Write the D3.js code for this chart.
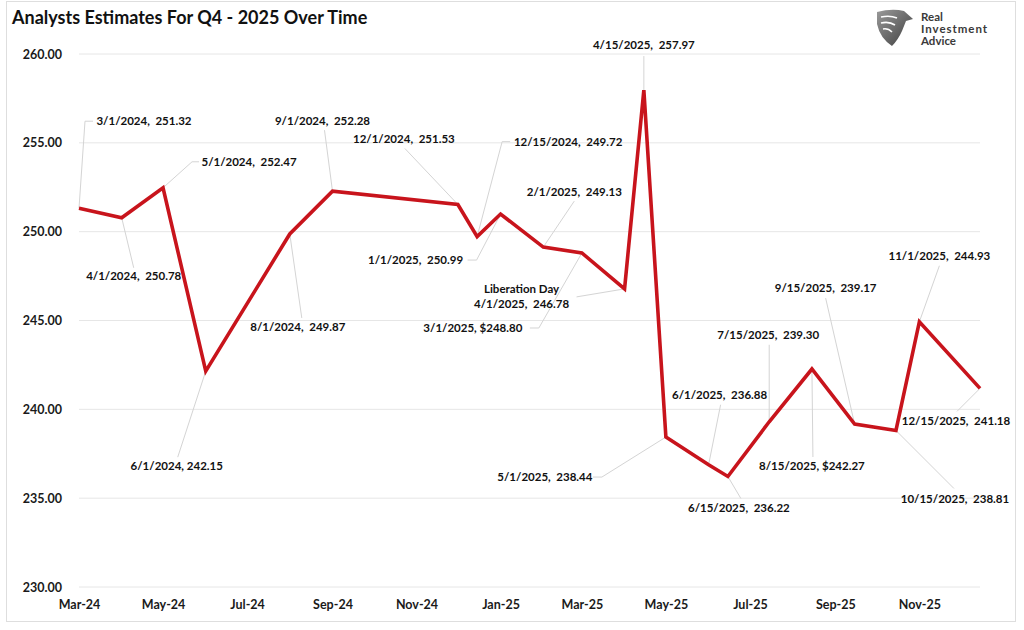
<!DOCTYPE html>
<html>
<head>
<meta charset="utf-8">
<script src="https://cdn.jsdelivr.net/npm/d3@7"></script>
<style>
body{margin:0;background:#fff;}
svg{font-family:Lato,"Open Sans",sans-serif;}
</style>
</head>
<body>
<svg width="1024" height="630"></svg>
<script>
// dane z wykresu
var daty = ["2024-03-01","2024-04-01","2024-05-01","2024-06-01","2024-08-01","2024-09-01","2024-12-01","2024-12-15",
	"2025-01-01","2025-02-01","2025-03-01","2025-04-01","2025-04-15","2025-05-01","2025-06-01","2025-06-15",
	"2025-07-15","2025-08-15","2025-09-15","2025-10-15","2025-11-01","2025-12-15"];
var wartosci = [251.32,250.78,252.47,242.15,249.87,252.28,251.53,249.72,250.99,249.13,248.80,246.78,257.97,
	238.44,236.88,236.22,239.30,242.27,239.17,238.81,244.93,241.18];
var etykiety = [["3/1/2024,  251.32"],["4/1/2024,  250.78"],["5/1/2024,  252.47"],["6/1/2024, 242.15"],
	["8/1/2024,  249.87"],["9/1/2024,  252.28"],["12/1/2024,  251.53"],["12/15/2024,  249.72"],
	["1/1/2025,  250.99"],["2/1/2025,  249.13"],["3/1/2025, $248.80"],["Liberation Day","4/1/2025,  246.78"],
	["4/15/2025,  257.97"],["5/1/2025,  238.44"],["6/1/2025,  236.88"],["6/15/2025,  236.22"],
	["7/15/2025,  239.30"],["8/15/2025, $242.27"],["9/15/2025,  239.17"],["10/15/2025,  238.81"],
	["11/1/2025,  244.93"],["12/15/2025,  241.18"]];
var yTicki = [230,235,240,245,250,255,260];
var tytul = "Analysts Estimates For Q4 - 2025 Over Time";

// przesuniecia etykiet wzgledem punktu: [tx,ty, lx,ly, kreska]
var uklad = [[65,-87,6,-87,8],[12,58,12,50,0],[86,-26,29,-26,7],[-29,95,-28,86,0],[8,93,12,84,0],
	[-10,-70,-8,-61,0],[-54,-66,-53,-56,0],[91,-95,25,-95,8],[-85,46,-24,46,-9],[31,-55,31,-46,0],
	[-109,75,-43,75,-9],[-103,8,-48,8,0],[0,-45,0,-34,0],[-121,40,-64,40,-9],[11,-70,12,-60,0],
	[11,31,13,22,0],[-1,-87,0,-77,0],[0,97,1,88,0],[-29,-136,-29,-126,0],[59,68,58,58,0],
	[20,-66,20,-56,0],[-24,33,-23,23,0]];

var parse = d3.timeParse("%Y-%m-%d");
var dane = daty.map(function(d,i){ return {data: parse(d), v: wartosci[i], tekst: etykiety[i], u: uklad[i]}; });

var svg = d3.select("svg");
var x = d3.scaleTime().domain([parse("2024-03-01"), parse("2025-12-15")]).range([79, 980]);
var y = d3.scaleLinear().domain([230,260]).range([587,54]);

// ramka
svg.append("rect").attr("x",6.5).attr("y",1.5).attr("width",1009).attr("height",620)
	.attr("fill","#fff").attr("stroke","#dedede").attr("stroke-width",1);

// tytul
svg.append("text").attr("x",12).attr("y",24).attr("font-size",18).attr("font-weight","bold")
	.attr("fill","#111").text(tytul);

// logo
var grad = svg.append("defs").append("linearGradient").attr("id","g1").attr("x1",0).attr("y1",0).attr("x2",1).attr("y2",1);
grad.append("stop").attr("offset","0%").attr("stop-color","#9a9a9a");
grad.append("stop").attr("offset","100%").attr("stop-color","#3c3c3c");
svg.append("path").attr("d","M877,12 Q892,8 904,11 L913,19 L906,21 L902,31 Q898,40 892,46 Q880,38 877,24 Z")
	.attr("fill","url(#g1)");
svg.append("path").attr("d","M881,17 Q890,15 897,18 M881,23 Q889,21 895,25 M883,29 Q888,28 892,32")
	.attr("fill","none").attr("stroke","#fff").attr("stroke-width",1.6);
["Real","Investment","Advice"].forEach(function(t,i){
	svg.append("text").attr("x",921).attr("y",21+i*12).attr("font-size",11.5).attr("font-weight","bold")
		.attr("fill","#3a3a3a").attr("textLength", t=="Investment" ? 66 : null).text(t);
});

// siatka
svg.selectAll(".grid").data(yTicki).enter().append("line")
	.attr("x1",79).attr("x2",980).attr("y1",function(d){return y(d);}).attr("y2",function(d){return y(d);})
	.attr("stroke","#e6e6e6").attr("stroke-width",1);

// osie
var osY = svg.append("g").attr("transform","translate(62,0)")
	.call(d3.axisLeft(y).tickValues(yTicki).tickFormat(d3.format(".2f")).tickSize(0).tickPadding(0));
var osX = svg.append("g").attr("transform","translate(0,598)")
	.call(d3.axisBottom(x).ticks(d3.timeMonth.every(2)).tickFormat(d3.timeFormat("%b-%y")).tickSize(0).tickPadding(0));
[osY,osX].forEach(function(o){
	o.select(".domain").remove();
	o.selectAll("text").attr("font-family","Lato").attr("font-size",12.5).attr("font-weight","bold").attr("fill","#1a1a1a");
});
osX.selectAll("text").attr("dy","0.9em");

// linie do etykiet
svg.selectAll(".lider").data(dane).enter().append("polyline")
	.attr("points",function(d){
		var px=x(d.data), py=y(d.v), u=d.u;
		var p = px+","+py+" "+(px+u[2])+","+(py+u[3]);
		if(u[4]!=0) p += " "+(px+u[2]+u[4])+","+(py+u[3]);
		return p;
	})
	.attr("fill","none").attr("stroke","#d4d4d4").attr("stroke-width",1);

// linia
svg.append("path").datum(dane)
	.attr("d", d3.line().x(function(d){return x(d.data);}).y(function(d){return y(d.v);}))
	.attr("fill","none").attr("stroke","#c8141c").attr("stroke-width",3.6).attr("stroke-linejoin","miter");

// etykiety
dane.forEach(function(d){
	var px=x(d.data), py=y(d.v), n=d.tekst.length;
	var t = svg.append("text").attr("x",px+d.u[0]).attr("y",py+d.u[1]-(n-1)*7.5)
		.attr("text-anchor","middle").attr("font-size",11.5).attr("font-weight","bold").attr("fill","#111")
		.style("white-space","pre");
	d.tekst.forEach(function(s,i){
		t.append("tspan").attr("x",px+d.u[0]).attr("dy", i==0 ? "0.35em" : "1.3em").text(s);
	});
});
</script>
</body>
</html>
